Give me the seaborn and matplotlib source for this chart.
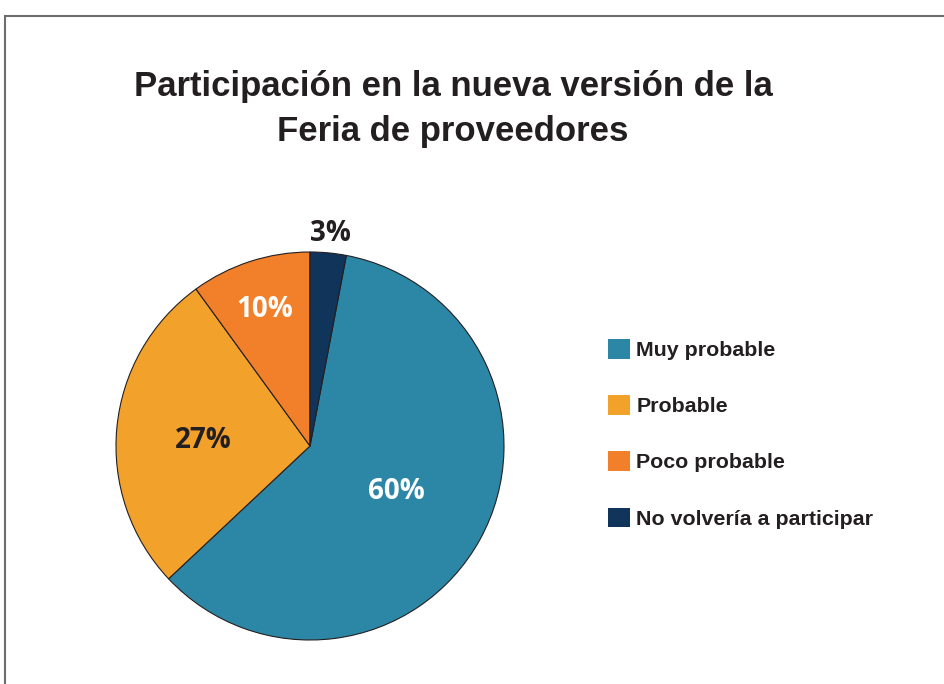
import numpy as np
import matplotlib
matplotlib.use("Agg")
import matplotlib.pyplot as plt
from matplotlib.patches import Patch, Rectangle
import seaborn as sns

# data
categorias = ["Muy probable", "Probable", "Poco probable", "No volvería a participar"]
valores = [60, 27, 10, 3]
colores = ["#2C87A7", "#F2A12B", "#F27F2A", "#10345A"]
color_texto = ["white", "#231F20", "white", "#231F20"]
dist_texto = [0.51, 0.55, 0.76, 1.12]
ajuste_y = [0.01, -0.025, -0.02, -0.02]  # pequeño ajuste vertical de las etiquetas

sns.set_theme(style="white")
plt.rcParams["font.family"] = ["Liberation Sans", "DejaVu Sans"]

fig = plt.figure(figsize=(9.45, 6.84), dpi=100)

# marco gris
fig.patches.append(Rectangle((5 / 945, -0.05), 1.0, 1 - 16 / 684 + 0.05,
                             transform=fig.transFigure, fill=False,
                             edgecolor="#6d6d6d", linewidth=1.5))

# pie axes: centro (310, 446) px, radio 194 px
cx, cy, r = 310, 446, 194
ax = fig.add_axes([(cx - r) / 945, 1 - (cy + r) / 684, 2 * r / 945, 2 * r / 684])

start = 90 - valores[-1] / sum(valores) * 360
wedges, _ = ax.pie(valores, colors=colores, startangle=start, counterclock=False,
                   radius=1, wedgeprops=dict(edgecolor="#231F20", linewidth=0.8))
ax.set_xlim(-1, 1)
ax.set_ylim(-1, 1)
ax.set_aspect("equal")
ax.axis("off")

for w, v, c, d, dy in zip(wedges, valores, color_texto, dist_texto, ajuste_y):
    ang = np.deg2rad((w.theta1 + w.theta2) / 2)
    ax.text(d * np.cos(ang), d * np.sin(ang) + dy, f"{v}%", ha="center", va="center",
            color=c, fontsize=20, fontweight="bold",
            family=["Open Sans", "DejaVu Sans"], clip_on=False)

# titulo
fig.text(453 / 945, 1 - 109 / 684, "Participación en la nueva versión de la\nFeria de proveedores",
         ha="center", va="center", fontsize=25, fontweight="bold", color="#231F20",
         linespacing=1.45)

# leyenda
handles = [Patch(facecolor=c, edgecolor="none") for c in colores]
fig.legend(handles, categorias, loc="upper left", bbox_to_anchor=(608 / 945, 1 - 339 / 684),
           frameon=False, borderpad=0, borderaxespad=0, handlelength=1.03, handleheight=1.03,
           handletextpad=0.3, labelspacing=1.64, prop=dict(size=15.4, weight="bold"),
           labelcolor="#231F20")

fig.savefig("out.png", dpi=100)
